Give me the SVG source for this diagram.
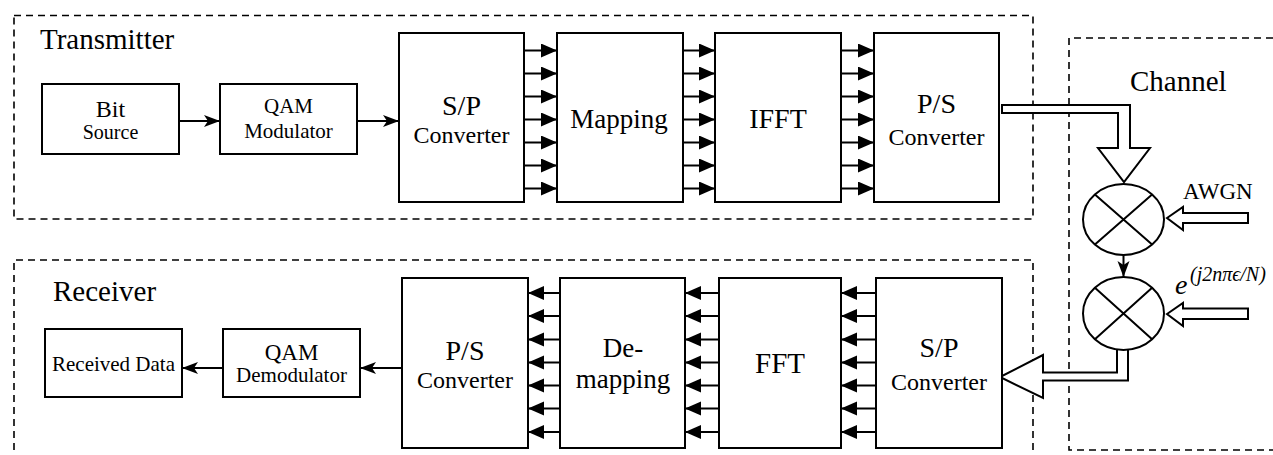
<svg xmlns="http://www.w3.org/2000/svg" width="1273" height="455" viewBox="0 0 1273 455" font-family="'Liberation Serif', 'DejaVu Serif', serif">
  <style>
    .frame { fill: none; stroke: #000; stroke-width: 1.6; stroke-dasharray: 7 5; }
    .box { fill: #fff; stroke: #000; stroke-width: 2; }
    .mix { fill: #fff; stroke: #000; stroke-width: 2; }
    .hollow { fill: #fff; stroke: #000; stroke-width: 2; stroke-linejoin: miter; }
    .wire { fill: none; stroke: #000; stroke-width: 2; }
    .bus { fill: none; stroke: #000; stroke-width: 2; marker-end: url(#tri); }
    .sig { fill: none; stroke: #000; stroke-width: 2; marker-end: url(#stealth); }
    text { font-family: 'Liberation Serif', 'DejaVu Serif', serif; fill: #000; }
    .c { text-anchor: middle; }
    .it { font-style: italic; }
  </style>
  <defs>
    <marker id="tri" markerUnits="userSpaceOnUse" markerWidth="17" markerHeight="15" refX="16" refY="7" orient="auto">
      <path d="M0,0 L16,7 L0,14 z" fill="#000"/>
    </marker>
    <marker id="stealth" markerUnits="userSpaceOnUse" markerWidth="17" markerHeight="13" refX="16" refY="6" orient="auto">
      <path d="M0,0 L16,6 L0,12 L4,6 z" fill="#000"/>
    </marker>
  </defs>

  <!-- dashed section frames -->
  <g id="frames">
    <rect class="frame" x="14" y="15.5" width="1019" height="203.5"/>
    <path class="frame" d="M14,462 V260 H1033 V462"/>
    <path class="frame" d="M1285,38 H1069 V450 H1285"/>
  </g>

  <!-- section titles -->
  <g id="titles">
    <text x="40" y="49" font-size="29">Transmitter</text>
    <text x="53" y="301" font-size="29">Receiver</text>
    <text x="1130" y="91" font-size="29">Channel</text>
  </g>

  <!-- connectors -->
  <g id="connectors">
    <!-- transmitter serial links -->
    <line class="sig" x1="179" y1="121" x2="220" y2="121"/>
    <line class="sig" x1="357" y1="121" x2="399" y2="121"/>
    <!-- S/P to Mapping -->
    <g>
      <line class="bus" x1="524" y1="50.5" x2="557" y2="50.5"/>
      <line class="bus" x1="524" y1="73.5" x2="557" y2="73.5"/>
      <line class="bus" x1="524" y1="96.5" x2="557" y2="96.5"/>
      <line class="bus" x1="524" y1="119.5" x2="557" y2="119.5"/>
      <line class="bus" x1="524" y1="142.5" x2="557" y2="142.5"/>
      <line class="bus" x1="524" y1="165.5" x2="557" y2="165.5"/>
      <line class="bus" x1="524" y1="188.5" x2="557" y2="188.5"/>
    </g>
    <!-- Mapping to IFFT -->
    <g>
      <line class="bus" x1="683" y1="50.5" x2="715" y2="50.5"/>
      <line class="bus" x1="683" y1="73.5" x2="715" y2="73.5"/>
      <line class="bus" x1="683" y1="96.5" x2="715" y2="96.5"/>
      <line class="bus" x1="683" y1="119.5" x2="715" y2="119.5"/>
      <line class="bus" x1="683" y1="142.5" x2="715" y2="142.5"/>
      <line class="bus" x1="683" y1="165.5" x2="715" y2="165.5"/>
      <line class="bus" x1="683" y1="188.5" x2="715" y2="188.5"/>
    </g>
    <!-- IFFT to P/S -->
    <g>
      <line class="bus" x1="841" y1="50.5" x2="874" y2="50.5"/>
      <line class="bus" x1="841" y1="73.5" x2="874" y2="73.5"/>
      <line class="bus" x1="841" y1="96.5" x2="874" y2="96.5"/>
      <line class="bus" x1="841" y1="119.5" x2="874" y2="119.5"/>
      <line class="bus" x1="841" y1="142.5" x2="874" y2="142.5"/>
      <line class="bus" x1="841" y1="165.5" x2="874" y2="165.5"/>
      <line class="bus" x1="841" y1="188.5" x2="874" y2="188.5"/>
    </g>

    <!-- receiver: S/P to FFT -->
    <g>
      <line class="bus" x1="876" y1="293" x2="841" y2="293"/>
      <line class="bus" x1="876" y1="316" x2="841" y2="316"/>
      <line class="bus" x1="876" y1="339.5" x2="841" y2="339.5"/>
      <line class="bus" x1="876" y1="362.5" x2="841" y2="362.5"/>
      <line class="bus" x1="876" y1="385.5" x2="841" y2="385.5"/>
      <line class="bus" x1="876" y1="408.5" x2="841" y2="408.5"/>
      <line class="bus" x1="876" y1="432" x2="841" y2="432"/>
    </g>
    <!-- FFT to De-mapping -->
    <g>
      <line class="bus" x1="719" y1="293" x2="685" y2="293"/>
      <line class="bus" x1="719" y1="316" x2="685" y2="316"/>
      <line class="bus" x1="719" y1="339.5" x2="685" y2="339.5"/>
      <line class="bus" x1="719" y1="362.5" x2="685" y2="362.5"/>
      <line class="bus" x1="719" y1="385.5" x2="685" y2="385.5"/>
      <line class="bus" x1="719" y1="408.5" x2="685" y2="408.5"/>
      <line class="bus" x1="719" y1="432" x2="685" y2="432"/>
    </g>
    <!-- De-mapping to P/S -->
    <g>
      <line class="bus" x1="560" y1="293" x2="528" y2="293"/>
      <line class="bus" x1="560" y1="316" x2="528" y2="316"/>
      <line class="bus" x1="560" y1="339.5" x2="528" y2="339.5"/>
      <line class="bus" x1="560" y1="362.5" x2="528" y2="362.5"/>
      <line class="bus" x1="560" y1="385.5" x2="528" y2="385.5"/>
      <line class="bus" x1="560" y1="408.5" x2="528" y2="408.5"/>
      <line class="bus" x1="560" y1="432" x2="528" y2="432"/>
    </g>
    <!-- receiver serial links -->
    <line class="sig" x1="402" y1="368" x2="360" y2="368"/>
    <line class="sig" x1="223" y1="368" x2="182" y2="368"/>

    <!-- channel paths (block arrows) -->
    <polygon class="hollow" points="1002,105 1130,105 1130,148 1150,148 1124,182 1098,148 1118,148 1118,113 1002,113"/>
    <polygon class="hollow" points="1117,340 1117,372.5 1043,372.5 1043,355 1000,377 1043,398 1043,380.5 1128,380.5 1128,340"/>
    <polygon class="hollow" points="1167,218 1183,207 1183,213 1248,213 1248,223 1183,223 1183,230"/>
    <polygon class="hollow" points="1167,314 1183,303 1183,308.5 1248,308.5 1248,319 1183,319 1183,326"/>
    <line class="sig" x1="1123.5" y1="255" x2="1123.5" y2="277"/>
  </g>

  <!-- transmitter blocks -->
  <g id="bit-source">
    <rect class="box" x="42" y="84" width="137" height="70"/>
    <text class="c" x="110.5" y="117" font-size="24">Bit</text>
    <text class="c" x="110.5" y="139" font-size="20">Source</text>
  </g>
  <g id="qam-modulator">
    <rect class="box" x="220" y="84" width="137" height="70"/>
    <text class="c" x="288.5" y="113" font-size="21">QAM</text>
    <text class="c" x="288.5" y="138" font-size="21">Modulator</text>
  </g>
  <g id="tx-sp-converter">
    <rect class="box" x="399" y="33" width="125" height="169"/>
    <text class="c" x="461.5" y="115" font-size="28">S/P</text>
    <text class="c" x="461.5" y="143" font-size="24">Converter</text>
  </g>
  <g id="mapping">
    <rect class="box" x="557" y="33" width="126" height="169"/>
    <text class="c" x="619" y="128" font-size="27">Mapping</text>
  </g>
  <g id="ifft">
    <rect class="box" x="715" y="33" width="126" height="169"/>
    <text class="c" x="778" y="128" font-size="28">IFFT</text>
  </g>
  <g id="tx-ps-converter">
    <rect class="box" x="874" y="33" width="125" height="169"/>
    <text class="c" x="936.5" y="113" font-size="28">P/S</text>
    <text class="c" x="936.5" y="145" font-size="24">Converter</text>
  </g>

  <!-- channel -->
  <g id="awgn-mixer">
    <ellipse class="mix" cx="1123.5" cy="219.5" rx="40.5" ry="35.5"/>
    <path class="wire" d="M1094.9,194.4 L1152.1,244.6 M1152.1,194.4 L1094.9,244.6"/>
    <text x="1183" y="199" font-size="23">AWGN</text>
  </g>
  <g id="cfo-mixer">
    <ellipse class="mix" cx="1123.5" cy="313.5" rx="40.5" ry="36.5"/>
    <path class="wire" d="M1094.9,287.7 L1152.1,339.3 M1152.1,287.7 L1094.9,339.3"/>
    <text class="it" x="1175" y="294" font-size="28">e</text>
    <text class="it" x="1190" y="281" font-size="20">(j2nπϵ/N)</text>
  </g>

  <!-- receiver blocks -->
  <g id="rx-sp-converter">
    <rect class="box" x="876" y="278" width="126" height="170"/>
    <text class="c" x="939" y="357" font-size="28">S/P</text>
    <text class="c" x="939" y="390" font-size="24">Converter</text>
  </g>
  <g id="fft">
    <rect class="box" x="719" y="278" width="122" height="170"/>
    <text class="c" x="780" y="373" font-size="29">FFT</text>
  </g>
  <g id="demapping">
    <rect class="box" x="560" y="278" width="125" height="170"/>
    <text class="c" x="623" y="357" font-size="27">De-</text>
    <text class="c" x="623" y="388" font-size="27">mapping</text>
  </g>
  <g id="rx-ps-converter">
    <rect class="box" x="402" y="278" width="126" height="170"/>
    <text class="c" x="465" y="360" font-size="28">P/S</text>
    <text class="c" x="465" y="388" font-size="24">Converter</text>
  </g>
  <g id="qam-demodulator">
    <rect class="box" x="223" y="329" width="137" height="68"/>
    <text class="c" x="291.5" y="360" font-size="23">QAM</text>
    <text class="c" x="291.5" y="382" font-size="21">Demodulator</text>
  </g>
  <g id="received-data">
    <rect class="box" x="45" y="329" width="137" height="68"/>
    <text class="c" x="113.5" y="371" font-size="21">Received Data</text>
  </g>
</svg>
